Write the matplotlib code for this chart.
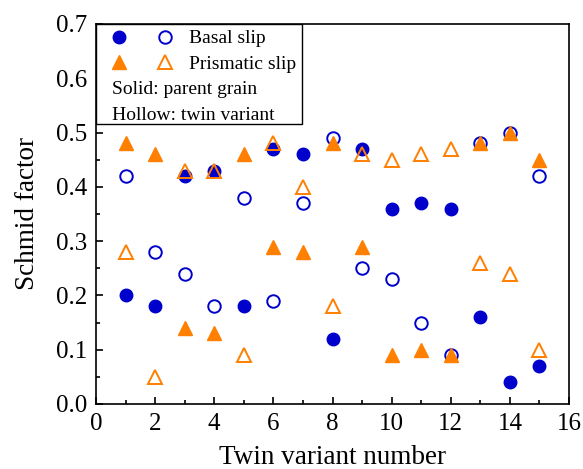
import matplotlib
matplotlib.use("Agg")
import matplotlib.pyplot as plt
from matplotlib.patches import Rectangle
from matplotlib.legend_handler import HandlerTuple
from matplotlib.ticker import MultipleLocator, FormatStrFormatter

plt.rcParams['font.family'] = ['Liberation Serif', 'DejaVu Serif']

variants = list(range(1, 16))
basal_parent = [0.20, 0.18, 0.42, 0.43, 0.18, 0.47, 0.46, 0.12, 0.47, 0.36, 0.37, 0.36, 0.16, 0.04, 0.07]
basal_twin = [0.42, 0.28, 0.24, 0.18, 0.38, 0.19, 0.37, 0.49, 0.25, 0.23, 0.15, 0.09, 0.48, 0.50, 0.42]
prism_parent = [0.48, 0.46, 0.14, 0.13, 0.46, 0.29, 0.28, 0.48, 0.29, 0.09, 0.10, 0.09, 0.48, 0.50, 0.45]
prism_twin = [0.28, 0.05, 0.43, 0.43, 0.09, 0.48, 0.40, 0.18, 0.46, 0.45, 0.46, 0.47, 0.26, 0.24, 0.10]

blue = '#0000CC'
orange = '#FF7F00'

fig = plt.figure(figsize=(5.83, 4.69), dpi=100)
ax = fig.add_axes([96/583, 1 - 404/469, (569-96)/583, (404-24)/469])

ms_c = 9
ms_t = 10
h_bp, = ax.plot(variants, basal_parent, 'o', color=blue, ms=ms_c, ls='none', zorder=3)
h_bt, = ax.plot(variants, basal_twin, 'o', mfc='none', mec=blue, mew=1.4, ms=ms_c, ls='none', zorder=3)
h_pp, = ax.plot(variants, prism_parent, '^', color=orange, ms=ms_t, ls='none', zorder=4)
h_pt, = ax.plot(variants, prism_twin, '^', mfc='none', mec=orange, mew=1.4, ms=ms_t, ls='none', zorder=4)

ax.set_xlim(0, 16)
ax.set_ylim(0, 0.7)
ax.xaxis.set_major_locator(MultipleLocator(2))
ax.xaxis.set_minor_locator(MultipleLocator(1))
ax.yaxis.set_major_locator(MultipleLocator(0.1))
ax.yaxis.set_minor_locator(MultipleLocator(0.05))
ax.yaxis.set_major_formatter(FormatStrFormatter('%.1f'))
ax.tick_params(which='both', direction='in', top=False, right=False, labelsize=18, width=1.2, pad=6.5)
ax.tick_params(which='major', length=5)
ax.tick_params(which='minor', length=3)
for s in ax.spines.values():
    s.set_linewidth(1.2)

ax.set_xlabel('Twin variant number', fontsize=19.5, labelpad=7)
ax.set_ylabel('Schmid factor', fontsize=19.5, labelpad=11)

box = Rectangle((0, 1 - 0.263), 0.435, 0.263, transform=ax.transAxes,
                facecolor='white', edgecolor='black', lw=1.0, zorder=5)
ax.add_patch(box)

leg = ax.legend([(h_bp, h_bt), (h_pp, h_pt)], ['Basal slip', 'Prismatic slip'],
                handler_map={tuple: HandlerTuple(ndivide=None, pad=0)},
                loc='upper left', bbox_to_anchor=(0.0, 0.985), borderaxespad=0,
                borderpad=0.0, frameon=False, fontsize=14, handlelength=4.7,
                handletextpad=0.1, labelspacing=0.4)
leg.set_zorder(6)

ax.text(0.034, 0.827, 'Solid: parent grain', transform=ax.transAxes,
        fontsize=14, va='center', ha='left', zorder=7)
ax.text(0.034, 0.759, 'Hollow: twin variant', transform=ax.transAxes,
        fontsize=14, va='center', ha='left', zorder=7)

fig.savefig('out.png', dpi=100)
